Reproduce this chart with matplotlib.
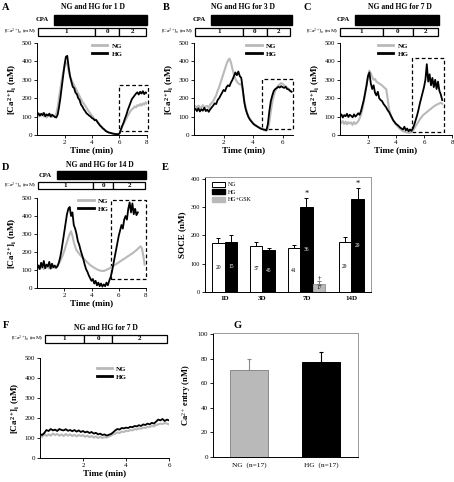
import numpy as np
import matplotlib.pyplot as plt
from matplotlib.patches import Rectangle, Patch
from matplotlib.lines import Line2D

plt.rcParams['font.family'] = 'Liberation Serif'
plt.rcParams['mathtext.fontset'] = 'custom'
plt.rcParams['mathtext.rm'] = 'Liberation Serif'
plt.rcParams['mathtext.it'] = 'Liberation Serif:italic'
plt.rcParams['mathtext.bf'] = 'Liberation Serif:bold'

# ---- traces (Ca2+ in nM, sampled every 0.1 min) ----
a_hg = [110, 118, 105, 115, 108, 120, 102, 112, 106, 116, 100, 110, 104, 98,
        95, 110, 150, 200, 260, 320, 380, 425, 430, 370, 320, 290, 262, 255, 230, 222,
        200, 190, 165, 155, 140, 130, 118, 112, 105, 100, 92, 88, 80, 82, 70, 60,
        50, 44, 35, 30, 22, 18, 14, 12, 10, 8, 6, 5, 5, 4, 8, 30, 50, 68, 90,
        110, 135, 155, 175, 195, 205, 215, 225, 232, 220, 235, 225, 238, 222, 232, 228]
a_ng = [112, 100, 115, 105, 118, 100, 110, 95, 108, 102, 112, 98, 105, 100,
        115, 150, 200, 250, 300, 340, 370, 395, 390, 350, 320, 300, 285, 270, 255, 240,
        225, 210, 195, 180, 170, 160, 148, 135, 125, 115, 105, 95, 85, 80, 72, 62,
        52, 42, 35, 28, 22, 18, 14, 12, 10, 8, 7, 6, 5, 5, 8, 25, 45, 60, 75,
        90, 105, 118, 130, 140, 145, 155, 150, 162, 158, 168, 160, 172, 165, 178, 170]

b_hg = [135, 142, 130, 145, 128, 140, 132, 148, 130, 138, 126, 140,
        150, 160, 172, 168, 190, 200, 215, 230, 245, 238, 260, 270, 265, 285, 300, 320,
        340, 325, 345, 320, 310, 250, 180, 140, 115, 95, 82, 72, 62, 55, 50, 45, 40,
        35, 32, 30, 28, 25, 60, 130, 185, 215, 240, 250, 255, 262, 258, 265, 260,
        256, 262, 250, 248, 240, 235]
b_ng = [150, 158, 145, 160, 152, 148, 162, 150, 155, 158, 148, 165,
        175, 185, 200, 215, 240, 260, 285, 310, 335, 360, 385, 405, 415, 395, 360, 330,
        305, 290, 280, 275, 278, 240, 190, 150, 120, 98, 85, 74, 65, 58, 52, 46, 42,
        38, 34, 30, 26, 24, 30, 70, 130, 180, 215, 240, 255, 268, 275, 282, 278,
        270, 265, 258, 250, 242, 235]

c_hg = [100, 112, 95, 108, 102, 115, 98, 110, 104, 96, 112, 100, 108, 118, 110,
        130, 160, 190, 230, 270, 320, 340, 280, 250, 270, 230, 215, 235, 200, 190,
        185, 170, 160, 150, 135, 125, 110, 95, 80, 70, 60, 55, 48, 40, 35, 30, 45,
        25, 35, 20, 30, 22, 35, 55, 80, 105, 135, 170, 200, 230, 260, 300, 385, 290,
        330, 270, 310, 260, 300, 250, 290, 240, 220, 190]
c_ng = [80, 65, 75, 60, 72, 58, 70, 62, 68, 55, 70, 60, 66, 75, 90,
        110, 140, 180, 230, 280, 320, 350, 335, 315, 300, 305, 290, 285, 280, 275,
        270, 262, 255, 250, 200, 140, 115, 95, 80, 68, 58, 48, 40, 32, 26, 20, 18,
        15, 14, 12, 12, 15, 22, 35, 48, 60, 72, 85, 95, 105, 112, 118, 125, 130,
        138, 142, 150, 155, 160, 165, 168, 172, 175, 170]

d_hg = [110, 125, 105, 140, 115, 150, 110, 130, 120, 145, 108, 135, 115, 125, 112,
        120, 140, 170, 210, 260, 310, 360, 410, 440, 450, 400, 420, 350, 330, 300,
        260, 240, 210, 185, 160, 130, 105, 90, 70, 55, 40, 50, 25, 40, 15, 30, 10,
        25, 8, 20, 10, 30, 15, 40, 60, 90, 130, 170, 210, 250, 290, 320, 350, 330,
        380, 400, 380, 440, 475, 420, 470, 410, 440, 405, 420]
d_ng = [115, 108, 120, 110, 118, 105, 115, 112, 120, 108, 116, 110, 118, 112, 120,
        125, 135, 150, 165, 185, 205, 230, 255, 280, 300, 315, 290, 255, 230, 210,
        200, 190, 180, 172, 165, 158, 150, 142, 135, 128, 122, 118, 112, 108, 104,
        100, 98, 95, 96, 94, 98, 100, 105, 108, 112, 118, 122, 128, 132, 138, 142,
        148, 152, 158, 162, 168, 172, 178, 182, 188, 192, 198, 205, 210, 218, 225,
        232, 220, 180, 130]

f_hg = [120, 115, 125, 140, 135, 145, 138, 142, 135, 145, 140, 138, 144, 136, 140,
        134, 140, 132, 138, 130, 135, 128, 132, 125, 130, 122, 126, 118, 122, 115,
        118, 112, 116, 120, 128, 138, 145, 142, 150, 148, 152, 150, 156, 154, 160,
        158, 164, 160, 168, 165, 172, 168, 176, 172, 182, 192, 188, 195, 185, 192, 188]
f_ng = [115, 105, 120, 110, 118, 112, 122, 115, 120, 112, 118, 110, 120, 112, 118,
        110, 116, 108, 115, 110, 114, 106, 112, 104, 110, 102, 108, 100, 106, 100,
        104, 102, 108, 112, 118, 122, 128, 125, 132, 130, 136, 134, 140, 138, 145,
        142, 148, 146, 152, 150, 156, 155, 160, 158, 165, 168, 172, 170, 175, 172, 168]

# ---- SOCE bar data (panel E) ----
days = ['1D', '3D', '7D', '14D']
soce_ng = [172, 164, 155, 178]
soce_ng_err = [18, 13, 11, 18]
soce_hg = [177, 149, 302, 328]
soce_hg_err = [23, 8, 30, 39]
soce_gsk = 30
soce_gsk_err = 8
n_ng = ['20', '37', '41', '29']
n_hg = ['15', '45', '36', '29']
n_gsk = '17'

# ---- Ca entry (panel G) ----
g_labels = ['NG  (n=17)', 'HG  (n=17)']
g_vals = [71, 77]
g_errs = [9, 8]

GRAY = '#b9b9b9'
W, H = 454, 482
fig = plt.figure(figsize=(W / 100, H / 100), dpi=100)


def rect(l, t, r, b):
    return [l / W, 1 - b / H, (r - l) / W, (b - t) / H]


def trace_panel(tr, st, ng, hg, t_ng, t_hg, xmax, xticks, cpa, edges, dash, leg_x, leg_y):
    ax = fig.add_axes(rect(*tr))
    ax.plot(np.linspace(0, t_ng, len(ng)), ng, color=GRAY, lw=1.5)
    ax.plot(np.linspace(0, t_hg, len(hg)), hg, color='black', lw=1.3)
    ax.set_xlim(0, xmax)
    ax.set_ylim(0, 500)
    ax.set_xticks(xticks)
    ax.set_yticks(range(0, 501, 100))
    ax.tick_params(labelsize=5, length=2, width=0.6, pad=1.5)
    for s in ['top', 'right']:
        ax.spines[s].set_visible(False)
    for s in ['left', 'bottom']:
        ax.spines[s].set_linewidth(0.7)
    ax.set_xlabel('Time (min)', fontsize=6.5, fontweight='bold', labelpad=1)
    ax.set_ylabel(r'$\mathbf{[Ca^{2+}]_i}$ (nM)', fontsize=6.5, fontweight='bold', labelpad=2)
    if dash is not None:
        x0, y0, x1, y1 = dash
        ax.add_patch(Rectangle((x0, y0), x1 - x0, y1 - y0, fill=False, ls=(0, (3, 2)),
                               lw=0.9, clip_on=False))
    handles = [Line2D([], [], color=GRAY, lw=2), Line2D([], [], color='black', lw=2)]
    ax.legend(handles, ['NG', 'HG'], loc='upper left', bbox_to_anchor=(leg_x, leg_y),
              frameon=False, handlelength=2.2, handletextpad=0.6, labelspacing=0.3,
              prop={'size': 5, 'weight': 'bold'}, borderaxespad=0, borderpad=0)

    sa = fig.add_axes(rect(*st))
    sa.set_xlim(0, xmax)
    sa.set_ylim(0, 1)
    sa.axis('off')
    if cpa is not None:
        sa.add_patch(Rectangle((cpa[0], 0.56), cpa[1] - cpa[0], 0.44, color='black',
                               clip_on=False))
        sa.annotate('CPA', xy=(cpa[0], 0.78), xytext=(-4, 0), textcoords='offset points',
                    ha='right', va='center', fontsize=4.8, fontweight='bold')
        by, bh = 0.04, 0.38
    else:
        by, bh = 0.0, 1.0
    for (e0, e1), lab in zip(zip(edges[:-1], edges[1:]), ['1', '0', '2']):
        sa.add_patch(Rectangle((e0, by), e1 - e0, bh, fc='white', ec='black', lw=0.9,
                               clip_on=False))
        sa.text((e0 + e1) / 2, by + bh / 2, lab, ha='center', va='center',
                fontsize=5, fontweight='bold')
    sa.annotate(r'[Ca$^{2+}$]$_{\rm o}$ (mM)', xy=(edges[0], by + bh / 2), xytext=(-1, 0),
                textcoords='offset points', ha='right', va='center', fontsize=3.9)
    return ax


trace_panel((37, 43, 147, 135), (37, 15, 147, 37), a_ng, a_hg, 8.0, 8.0, 8, [2, 4, 6, 8],
            (1.25, 8.0), [0.05, 4.2, 6.0, 7.95], (6.0, 20, 8.1, 270), 0.5, 1.0)
trace_panel((194, 43, 293, 135), (194, 15, 293, 37), b_ng, b_hg, 6.6, 6.6, 6.7, [2, 4, 6],
            (1.15, 6.65), [0.05, 3.3, 4.95, 6.5], (4.6, 30, 6.7, 305), 0.53, 1.0)
trace_panel((340, 43, 452, 135), (340, 15, 452, 37), c_ng, c_hg, 7.3, 7.3, 8, [2, 4, 6, 8],
            (1.07, 7.07), [0.0, 3.07, 5.2, 7.0], (5.15, 15, 7.4, 418), 0.34, 1.0)
trace_panel((37, 198, 146, 288), (37, 171, 146, 190), d_ng, d_hg, 7.9, 7.4, 8, [2, 4, 6, 8],
            (1.47, 8.0), [0.05, 4.1, 5.6, 7.95], (5.4, 50, 8.0, 490), 0.38, 1.0)
trace_panel((40, 358, 169, 458), (40, 335, 169, 343), f_ng, f_hg, 6.0, 6.0, 6, [2, 4, 6],
            None, [0.23, 2.05, 3.35, 5.9], None, 0.44, 0.92)

# titles and letters
for x, y, s in [(93, 7, 'NG and HG for 1 D'), (243, 7, 'NG and HG for 3 D'),
                (400, 7, 'NG and HG for 7 D'), (100, 165, 'NG and HG for 14 D'),
                (106, 328, 'NG and HG for 7 D')]:
    fig.text(x / W, 1 - y / H, s, ha='center', va='center', fontsize=5.5, fontweight='bold')
for x, y, s in [(2, 7, 'A'), (163, 7, 'B'), (303, 7, 'C'), (2, 167, 'D'), (162, 167, 'E'),
                (3, 325, 'F'), (233, 326, 'G')]:
    fig.text(x / W, 1 - y / H, s, ha='left', va='center', fontsize=7.5, fontweight='bold')

# ---- panel E ----
ax = fig.add_axes(rect(205, 177, 371, 292))
centers = [1.55, 4.55, 8.05, 11.6]
ng_x = [c - 0.5 if i != 2 else c - 1.0 for i, c in enumerate(centers)]
hg_x = [c + 0.5 if i != 2 else c for i, c in enumerate(centers)]
gsk_x = centers[2] + 1.0
ax.bar(ng_x, soce_ng, width=1, color='white', edgecolor='black', lw=0.7)
ax.bar(hg_x, soce_hg, width=1, color='black', edgecolor='black', lw=0.7)
ax.bar([gsk_x], [soce_gsk], width=1, color=GRAY, edgecolor='#9a9a9a', lw=0.7)
ax.errorbar(ng_x, soce_ng, yerr=[np.zeros(4), soce_ng_err], fmt='none', ecolor='black',
            elinewidth=0.7, capsize=1.5, capthick=0.7)
ax.errorbar(hg_x, soce_hg, yerr=[np.zeros(4), soce_hg_err], fmt='none', ecolor='black',
            elinewidth=0.7, capsize=1.5, capthick=0.7)
ax.errorbar([gsk_x], [soce_gsk], yerr=[[0], [soce_gsk_err]], fmt='none', ecolor='#777777',
            elinewidth=0.7, capsize=1.5, capthick=0.7)
for x, v, n in zip(ng_x, soce_ng, n_ng):
    ax.text(x, v / 2, n, ha='center', va='center', fontsize=4)
for x, v, n in zip(hg_x, soce_hg, n_hg):
    ax.text(x, v / 2, n, ha='center', va='center', fontsize=4, color='white')
ax.text(gsk_x, soce_gsk / 2, n_gsk, ha='center', va='center', fontsize=4)
for i in (2, 3):
    ax.text(hg_x[i], soce_hg[i] + soce_hg_err[i] + 2, '*', ha='center', va='bottom', fontsize=6)
ax.text(gsk_x, soce_gsk + soce_gsk_err + 2, '\u2020', ha='center', va='bottom', fontsize=5)
ax.set_xlim(0, 13.17)
ax.set_ylim(0, 407)
ax.set_yticks(range(0, 401, 100))
ax.set_xticks(centers)
ax.set_xticklabels(days, fontsize=5, fontweight='bold')
ax.tick_params(axis='x', length=0, pad=3)
ax.tick_params(axis='y', labelsize=4.5, length=2, width=0.6, pad=1.5)
ax.spines['top'].set_color('#999999')
ax.spines['right'].set_color('#999999')
for s in ax.spines.values():
    s.set_linewidth(0.7)
ax.set_ylabel('SOCE (nM)', fontsize=6.5, fontweight='bold', labelpad=3)
ax.legend([Patch(fc='white', ec='black', lw=0.7), Patch(fc='black', ec='black'),
           Patch(fc=GRAY, ec=GRAY)], ['NG', 'HG', 'HG+GSK'], loc='upper left',
          bbox_to_anchor=(0.04, 0.96), frameon=False, fontsize=4.3, handlelength=2.2,
          handleheight=0.9, handletextpad=0.6, labelspacing=0.35, borderaxespad=0,
          borderpad=0)

# ---- panel G ----
ax = fig.add_axes(rect(213, 333, 358, 457))
gx = [1, 3]
ax.bar(gx, g_vals, width=1.05, color=[GRAY, 'black'], edgecolor=['#8a8a8a', 'black'], lw=0.7)
ax.errorbar([gx[0]], [g_vals[0]], yerr=[[0], [g_errs[0]]], fmt='none', ecolor='#8a8a8a',
            elinewidth=0.8, capsize=1.5, capthick=0.8)
ax.errorbar([gx[1]], [g_vals[1]], yerr=[[0], [g_errs[1]]], fmt='none', ecolor='black',
            elinewidth=0.8, capsize=1.5, capthick=0.8)
ax.set_xlim(0, 4.03)
ax.set_ylim(0, 100.8)
ax.set_yticks(range(0, 101, 20))
ax.set_xticks(gx)
ax.set_xticklabels(g_labels, fontsize=5.3)
ax.tick_params(axis='x', length=0, pad=4)
ax.tick_params(axis='y', labelsize=5, length=2, width=0.6, pad=1.5)
ax.spines['top'].set_color('#999999')
ax.spines['right'].set_color('#999999')
for s in ax.spines.values():
    s.set_linewidth(0.7)
ax.set_ylabel(r'Ca$^{2+}$ entry (nM)', fontsize=6, fontweight='bold', labelpad=3)

fig.savefig('out.png', dpi=100)
